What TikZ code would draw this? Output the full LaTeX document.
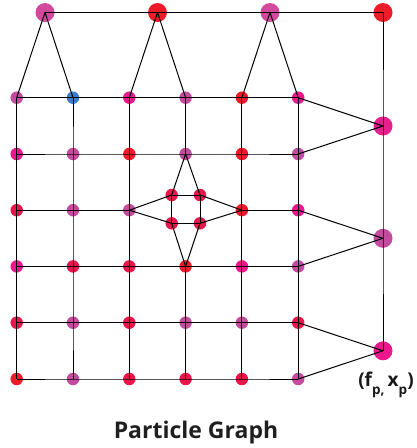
\documentclass[tikz,border=0pt]{standalone}
\usepackage{fontspec}
\setmainfont{Open Sans}
\definecolor{cred}{HTML}{EE1C28}
\definecolor{ccrim}{HTML}{E8174B}
\definecolor{cmag}{HTML}{EC178C}
\definecolor{corch}{HTML}{C44C9E}
\definecolor{cpink}{HTML}{D24A9E}
\definecolor{cblue}{HTML}{3D7BC6}
\begin{document}
\begin{tikzpicture}[x=1pt,y=-1pt,
  dot/.style={circle,inner sep=0pt,minimum size=12.5pt,fill=#1},
  bigdot/.style={circle,inner sep=0pt,minimum size=19pt,fill=#1},
  edge/.style={draw=black,line width=1pt,line join=round}]
\useasboundingbox (0,0) rectangle (417,448);
% grid nodes: row y, column x
\def\ya{97.7}\def\yb{154}\def\yc{210.2}\def\yd{266.4}\def\ye{322.7}\def\yf{379}
\def\xa{16.7}\def\xb{73}\def\xc{129.3}\def\xd{185.6}\def\xe{241.9}\def\xf{298.2}
% row 1
\node[dot=corch] (g11) at (\xa,\ya) {};
\node[dot=cblue] (g12) at (\xb,\ya) {};
\node[dot=cmag]  (g13) at (\xc,\ya) {};
\node[dot=corch] (g14) at (\xd,\ya) {};
\node[dot=cred]  (g15) at (\xe,\ya) {};
\node[dot=cmag]  (g16) at (\xf,\ya) {};
% row 2
\node[dot=cmag]  (g21) at (\xa,\yb) {};
\node[dot=corch] (g22) at (\xb,\yb) {};
\node[dot=cred]  (g23) at (\xc,\yb) {};
\node[dot=corch] (g24) at (\xd,\yb) {};
\node[dot=cred]  (g25) at (\xe,\yb) {};
\node[dot=corch] (g26) at (\xf,\yb) {};
% row 3
\node[dot=ccrim] (g31) at (\xa,\yc) {};
\node[dot=corch] (g32) at (\xb,\yc) {};
\node[dot=corch] (g33) at (\xc,\yc) {};
\node[dot=cred]  (g35) at (\xe,\yc) {};
\node[dot=cmag]  (g36) at (\xf,\yc) {};
% row 4
\node[dot=cmag]  (g41) at (\xa,\yd) {};
\node[dot=ccrim] (g42) at (\xb,\yd) {};
\node[dot=ccrim] (g43) at (\xc,\yd) {};
\node[dot=cred]  (g44) at (\xd,\yd) {};
\node[dot=cmag]  (g45) at (\xe,\yd) {};
\node[dot=corch] (g46) at (\xf,\yd) {};
% row 5
\node[dot=ccrim] (g51) at (\xa,\ye) {};
\node[dot=corch] (g52) at (\xb,\ye) {};
\node[dot=ccrim] (g53) at (\xc,\ye) {};
\node[dot=corch] (g54) at (\xd,\ye) {};
\node[dot=corch] (g55) at (\xe,\ye) {};
\node[dot=ccrim] (g56) at (\xf,\ye) {};
% row 6
\node[dot=cred]  (g61) at (\xa,\yf) {};
\node[dot=corch] (g62) at (\xb,\yf) {};
\node[dot=ccrim] (g63) at (\xc,\yf) {};
\node[dot=ccrim] (g64) at (\xd,\yf) {};
\node[dot=ccrim] (g65) at (\xe,\yf) {};
\node[dot=corch] (g66) at (\xf,\yf) {};
% diamond
\node[dot=ccrim] (d1) at (171.7,195) {};
\node[dot=ccrim] (d2) at (200,195) {};
\node[dot=ccrim] (d3) at (171.7,223.3) {};
\node[dot=ccrim] (d4) at (200,223.3) {};
% top
\node[bigdot=cpink] (t1) at (45,12.5) {};
\node[bigdot=cred]  (t2) at (157.5,12.5) {};
\node[bigdot=cpink] (t3) at (270,12.5) {};
\node[bigdot=cred]  (t4) at (383,12.5) {};
% right
\node[bigdot=cmag!85!corch] (r1) at (383,126) {};
\node[bigdot=corch] (r2) at (383,238.3) {};
\node[bigdot=cmag]  (r3) at (383,350.8) {};
% edges
\foreach \r in {1,2,4,5,6}{
  \draw[edge] (g\r1.center) -- (g\r2.center) -- (g\r3.center) -- (g\r4.center) -- (g\r5.center) -- (g\r6.center);
}
\draw[edge] (g31.center) -- (g32.center) -- (g33.center);
\draw[edge] (g35.center) -- (g36.center);
\foreach \c in {1,2,3,5,6}{
  \draw[edge] (g1\c.center) -- (g2\c.center) -- (g3\c.center) -- (g4\c.center) -- (g5\c.center) -- (g6\c.center);
}
\draw[edge] (g14.center) -- (g24.center);
\draw[edge] (g44.center) -- (g54.center) -- (g64.center);
\draw[edge] (d1.center) -- (d2.center) -- (d4.center) -- (d3.center) -- cycle;
\draw[edge] (d1.center) -- (g33.center) -- (d3.center);
\draw[edge] (d2.center) -- (g35.center) -- (d4.center);
\draw[edge] (d1.center) -- (g24.center) -- (d2.center);
\draw[edge] (d3.center) -- (g44.center) -- (d4.center);
\draw[edge] (t1.center) -- (t2.center) -- (t3.center) -- (t4.center) -- (r1.center) -- (r2.center) -- (r3.center);
\draw[edge] (g11.center) -- (t1.center) -- (g12.center);
\draw[edge] (g13.center) -- (t2.center) -- (g14.center);
\draw[edge] (g15.center) -- (t3.center) -- (g16.center);
\draw[edge] (g16.center) -- (r1.center) -- (g26.center);
\draw[edge] (g36.center) -- (r2.center) -- (g46.center);
\draw[edge] (g56.center) -- (r3.center) -- (g66.center);
% labels
\node[anchor=base,inner sep=0pt,font=\fontsize{19}{19}\selectfont\bfseries,text=black!90] (lab) at (386,386)
  {(f\raisebox{-8pt}{\fontsize{13.5}{13.5}\selectfont p,}\,x\raisebox{-8pt}{\fontsize{13.5}{13.5}\selectfont p})};
\node[anchor=base,inner sep=0pt,font=\fontsize{23}{23}\selectfont\bfseries,text=black!88] (title) at (196,438) {Particle Graph};
\end{tikzpicture}
\end{document}
